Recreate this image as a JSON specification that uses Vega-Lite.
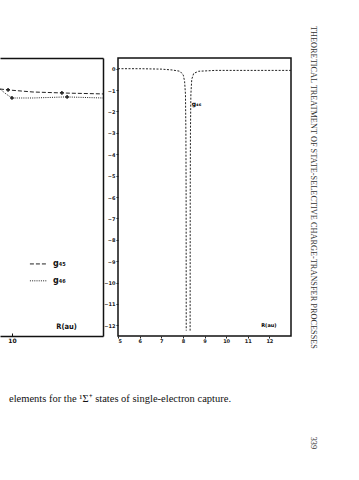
{
  "$schema": "https://vega.github.io/schema/vega-lite/v6.json",
  "background": "white",
  "padding": {"left": 0, "top": 25, "right": 2, "bottom": 2},
  "autosize": {"type": "pad"},
  "bounds": "flush",
  "spacing": 15,
  "config": {"font": "DejaVu Sans", "axis": {"grid": false, "title": null}},
  "hconcat": [
    {
      "width": 103,
      "height": 278,
      "view": {"stroke": null},
      "encoding": {
        "x": {"field": "R", "type": "quantitative", "scale": {"domain": [9.54, 13.5], "nice": false, "zero": false}, "axis": null},
        "y": {"field": "g", "type": "quantitative", "scale": {"domain": [-12.5, 0.5], "nice": false, "zero": false},
              "axis": {"orient": "right", "ticks": false, "labels": false, "domainWidth": 1.5, "domainColor": "#111"}}
      },
      "layer": [
        {
          "data": {"values": [
            {"series": "g45", "R": 9.54, "g": -0.95},
            {"series": "g45", "R": 9.92, "g": -1.0},
            {"series": "g45", "R": 10.81, "g": -1.09},
            {"series": "g45", "R": 12.08, "g": -1.14},
            {"series": "g45", "R": 13.5, "g": -1.18},
            {"series": "g46", "R": 9.54, "g": -0.95},
            {"series": "g46", "R": 9.77, "g": -1.18},
            {"series": "g46", "R": 10.0, "g": -1.37},
            {"series": "g46", "R": 10.81, "g": -1.37},
            {"series": "g46", "R": 12.08, "g": -1.32},
            {"series": "g46", "R": 13.5, "g": -1.37}
          ]},
          "mark": {"type": "line", "strokeWidth": 1, "color": "#222", "clip": true},
          "encoding": {
            "x": {"field": "R", "type": "quantitative", "scale": {"domain": [9.54, 13.5], "nice": false, "zero": false},
                  "axis": {"orient": "bottom", "values": [10], "domainWidth": 1.5, "domainColor": "#111", "tickSize": -3, "tickColor": "#111",
                           "labelFontSize": 6, "labelFontWeight": "bold", "labelPadding": 4, "labelColor": "#111"}},
            "strokeDash": {"field": "series", "type": "nominal", "scale": {"domain": ["g45", "g46"], "range": [[4, 2], [1, 1.2]]}, "legend": null}
          }
        },
        {
          "data": {"values": [
            {"series": "g45", "R": 10.69, "g": -9.13},
            {"series": "g45", "R": 11.35, "g": -9.13},
            {"series": "g46", "R": 10.69, "g": -9.92},
            {"series": "g46", "R": 11.35, "g": -9.92}
          ]},
          "mark": {"type": "line", "strokeWidth": 1, "color": "#222"},
          "encoding": {
            "x": {"field": "R", "type": "quantitative", "scale": {"domain": [9.54, 13.5], "nice": false, "zero": false},
                  "axis": {"orient": "top", "ticks": false, "labels": false, "domainWidth": 1.5, "domainColor": "#111"}},
            "strokeDash": {"field": "series", "type": "nominal", "scale": {"domain": ["g45", "g46"], "range": [[4, 2], [1, 1.2]]}, "legend": null}
          }
        },
        {
          "data": {"values": [
            {"R": 10.0, "g": -1.37},
            {"R": 12.12, "g": -1.32},
            {"R": 9.85, "g": -0.99},
            {"R": 11.92, "g": -1.13}
          ]},
          "mark": {"type": "point", "shape": "cross", "size": 14, "filled": true, "color": "#222", "opacity": 1}
        },
        {
          "data": {"values": [
            {"label": "g₄₅", "R": 11.58, "g": -9.13},
            {"label": "g₄₆", "R": 11.58, "g": -9.92}
          ]},
          "mark": {"type": "text", "align": "left", "baseline": "middle", "fontSize": 8, "fontWeight": "bold", "color": "#111"},
          "encoding": {"text": {"field": "label"}}
        },
        {
          "data": {"values": [{"label": "R(au)", "R": 12.1, "g": -12.08}]},
          "mark": {"type": "text", "align": "center", "baseline": "middle", "font": "DejaVu Sans Condensed", "fontSize": 7.5, "fontWeight": "bold", "color": "#111"},
          "encoding": {"text": {"field": "label"}}
        }
      ],
      "resolve": {"axis": {"x": "independent"}}
    },
    {
      "width": 173,
      "height": 278,
      "view": {"stroke": "#111", "strokeWidth": 1.5},
      "encoding": {
        "x": {"field": "R", "type": "quantitative", "scale": {"domain": [5, 13], "nice": false, "zero": false},
              "axis": {"orient": "bottom", "values": [5, 6, 7, 8, 9, 10, 11, 12], "domain": false, "tickSize": 2, "tickColor": "#222",
                       "labelFontSize": 5, "labelFontWeight": "bold", "labelPadding": 0, "labelColor": "#222"}},
        "y": {"field": "g", "type": "quantitative", "scale": {"domain": [-12.5, 0.5], "nice": false, "zero": false},
              "axis": {"orient": "left", "values": [0, -1, -2, -3, -4, -5, -6, -7, -8, -9, -10, -11, -12], "domain": false, "tickSize": 2, "tickColor": "#222",
                       "labelFontSize": 5, "labelFontWeight": "bold", "labelPadding": 1, "labelColor": "#222"}}
      },
      "layer": [
        {
          "data": {"values": [
            {"part": "a", "R": 5.0, "g": 0.0},
            {"part": "a", "R": 6.0, "g": 0.0},
            {"part": "a", "R": 7.0, "g": -0.02},
            {"part": "a", "R": 7.5, "g": -0.06},
            {"part": "a", "R": 7.87, "g": -0.12},
            {"part": "a", "R": 8.02, "g": -0.3},
            {"part": "a", "R": 8.08, "g": -0.6},
            {"part": "a", "R": 8.12, "g": -1.2},
            {"part": "a", "R": 8.14, "g": -3.0},
            {"part": "a", "R": 8.15, "g": -6.0},
            {"part": "a", "R": 8.155, "g": -12.25},
            {"part": "b", "R": 8.335, "g": -12.25},
            {"part": "b", "R": 8.34, "g": -6.0},
            {"part": "b", "R": 8.35, "g": -3.0},
            {"part": "b", "R": 8.37, "g": -1.2},
            {"part": "b", "R": 8.41, "g": -0.5},
            {"part": "b", "R": 8.5, "g": -0.22},
            {"part": "b", "R": 8.73, "g": -0.12},
            {"part": "b", "R": 9.5, "g": -0.08},
            {"part": "b", "R": 11.0, "g": -0.08},
            {"part": "b", "R": 13.0, "g": -0.08}
          ]},
          "mark": {"type": "line", "strokeWidth": 1, "color": "#222", "strokeDash": [2, 1.5], "clip": true},
          "encoding": {"detail": {"field": "part", "type": "nominal"}}
        },
        {
          "data": {"values": [{"label": "g₄₆", "R": 8.63, "g": -1.65}]},
          "mark": {"type": "text", "align": "center", "baseline": "middle", "fontSize": 6, "fontWeight": "bold", "color": "#000"},
          "encoding": {"text": {"field": "label"}}
        },
        {
          "data": {"values": [{"label": "R(au)", "R": 11.98, "g": -11.98}]},
          "mark": {"type": "text", "align": "center", "baseline": "middle", "fontSize": 5, "fontWeight": "bold", "color": "#000"},
          "encoding": {"text": {"field": "label"}}
        },
        {
          "data": {"values": [{"label": "THEORETICAL TREATMENT OF STATE-SELECTIVE CHARGE-TRANSFER PROCESSES", "R": 14.02, "g": 2.0}]},
          "mark": {"type": "text", "angle": 90, "align": "left", "baseline": "middle", "font": "Liberation Serif", "fontSize": 8.3, "color": "#333", "clip": false},
          "encoding": {"text": {"field": "label"}}
        },
        {
          "data": {"values": [{"label": "339", "R": 14.02, "g": -17.5}]},
          "mark": {"type": "text", "angle": 90, "align": "center", "baseline": "middle", "font": "Liberation Serif", "fontSize": 8.3, "color": "#333", "clip": false},
          "encoding": {"text": {"field": "label"}}
        },
        {
          "data": {"values": [{"label": "elements for the ¹Σ⁺ states of single-electron capture.", "R": -0.04, "g": -15.45}]},
          "mark": {"type": "text", "align": "left", "baseline": "middle", "font": "Liberation Serif", "fontSize": 10.5, "color": "#111", "clip": false},
          "encoding": {"text": {"field": "label"}}
        }
      ]
    }
  ]
}
